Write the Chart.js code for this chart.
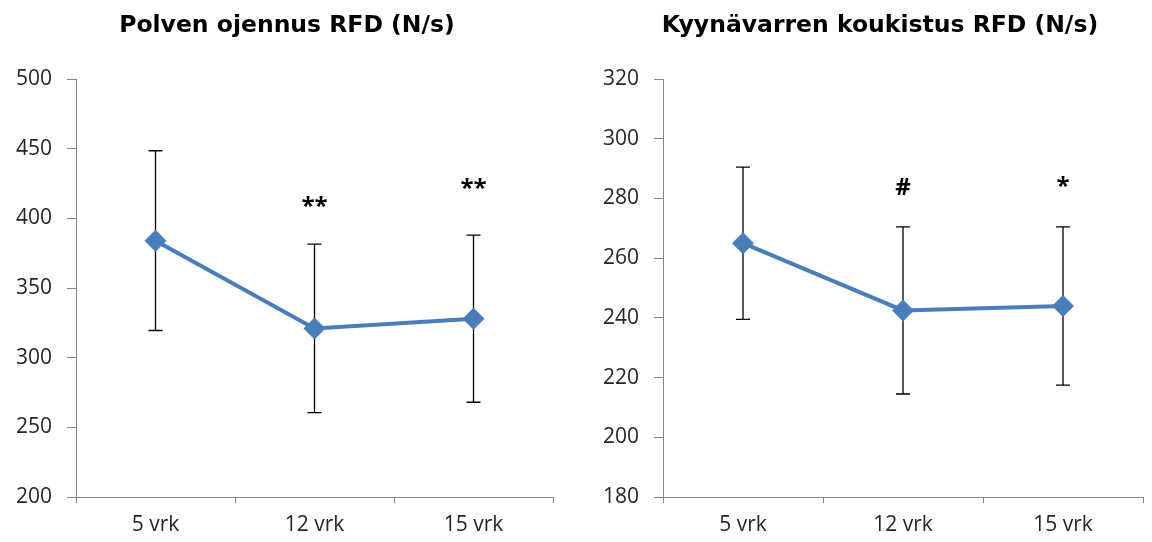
<!DOCTYPE html>
<html><head><meta charset="utf-8">
<script src="https://cdn.jsdelivr.net/npm/chart.js@4/dist/chart.umd.min.js"></script>
<style>
html,body{margin:0;padding:0;background:#fff;overflow:hidden;width:1152px;height:542px;}
.box{position:absolute;top:0;height:542px;}
</style></head><body>
<div class="box" style="left:0;width:574px"><canvas id="c1" width="574" height="542"></canvas></div>
<div class="box" style="left:600px;width:560px"><canvas id="c2" width="560" height="542"></canvas></div>
<script>
const categories = ['5 vrk', '12 vrk', '15 vrk'];

const kneeTitle = 'Polven ojennus RFD (N/s)';
const kneeMean = [384, 321, 328];
const kneeSD = [64.5, 60.5, 60];
const kneeTicks = {min: 200, max: 500, step: 50};
const kneeMarks = ['', '**', '**'];
const kneeMarkLevel = [null, 403, 416];

const elbowTitle = 'Kyynävarren koukistus RFD (N/s)';
const elbowMean = [265, 242.5, 244];
const elbowSD = [25.5, 28, 26.5];
const elbowTicks = {min: 180, max: 320, step: 20};
const elbowMarks = ['', '#', '*'];
const elbowMarkLevel = [null, 281, 281.5];

const FONT = "'Open Sans', 'Liberation Sans', sans-serif";
const TITLE_FONT = "'DejaVu Sans', 'Open Sans', sans-serif";
const AXIS = '#868686';
const BLUE = '#4A7EBB';

// Centered title over the whole chart box (canvas), like the original
const centeredTitle = {
  id: 'centeredTitle',
  afterDraw(chart, args, opts) {
    const ctx = chart.ctx;
    ctx.save();
    ctx.fillStyle = '#000';
    ctx.font = "bold 23.5px " + TITLE_FONT;
    ctx.textAlign = 'center';
    ctx.textBaseline = 'alphabetic';
    ctx.fillText(opts.text, chart.width / 2, 32);
    ctx.restore();
  }
};

const errorBars = {
  id: 'errorBars',
  beforeDatasetsDraw(chart, args, opts) {
    const {ctx, scales: {x, y}} = chart;
    ctx.save();
    ctx.strokeStyle = '#000';
    ctx.lineWidth = 1.3;
    opts.mean.forEach((m, i) => {
      const px = x.getPixelForValue(i);
      const yt = y.getPixelForValue(m + opts.sd[i]);
      const yb = y.getPixelForValue(m - opts.sd[i]);
      ctx.beginPath();
      ctx.moveTo(px, yt); ctx.lineTo(px, yb);
      ctx.moveTo(px - 7, yt); ctx.lineTo(px + 7, yt);
      ctx.moveTo(px - 7, yb); ctx.lineTo(px + 7, yb);
      ctx.stroke();
    });
    ctx.restore();
  },
  afterDatasetsDraw(chart, args, opts) {
    const {ctx, scales: {x, y}} = chart;
    ctx.save();
    ctx.fillStyle = '#000';
    ctx.font = "bold 24px " + FONT;
    ctx.textAlign = 'center';
    ctx.textBaseline = 'alphabetic';
    opts.marks.forEach((t, i) => {
      if (!t || opts.levels[i] == null) return;
      ctx.fillText(t, x.getPixelForValue(i), y.getPixelForValue(opts.levels[i]));
    });
    ctx.restore();
  }
};

function makeChart(id, title, mean, sd, ticks, marks, levels, yWidth, padRight) {
  return new Chart(document.getElementById(id), {
    type: 'line',
    data: {
      labels: categories,
      datasets: [{
        data: mean,
        borderColor: BLUE,
        backgroundColor: BLUE,
        borderWidth: 4,
        pointStyle: 'rectRot',
        pointRadius: 11,
        pointHoverRadius: 11,
        pointBorderWidth: 0,
        tension: 0
      }]
    },
    options: {
      responsive: false,
      animation: false,
      layout: {padding: {left: 0, right: padRight, top: 79, bottom: 0}},
      plugins: {
        legend: {display: false},
        tooltip: {enabled: false},
        title: {display: false},
        centeredTitle: {text: title},
        errorBars: {mean: mean, sd: sd, marks: marks, levels: levels}
      },
      scales: {
        x: {
          offset: true,
          grid: {display: true, drawOnChartArea: false, offset: true, tickLength: 6, color: AXIS},
          border: {display: true, color: AXIS, width: 1},
          ticks: {color: '#262626', font: {family: FONT, size: 21}, padding: 9, maxRotation: 0},
          afterFit(s) { s.height = 45; }
        },
        y: {
          min: ticks.min, max: ticks.max,
          grid: {display: true, drawOnChartArea: false, tickLength: 9, color: AXIS},
          border: {display: true, color: AXIS, width: 1},
          ticks: {stepSize: ticks.step, color: '#262626', font: {family: FONT, size: 21}, padding: 15},
          afterFit(s) { s.width = yWidth; }
        }
      }
    },
    plugins: [errorBars, centeredTitle]
  });
}

makeChart('c1', kneeTitle, kneeMean, kneeSD, kneeTicks, kneeMarks, kneeMarkLevel, 76, 21);
makeChart('c2', elbowTitle, elbowMean, elbowSD, elbowTicks, elbowMarks, elbowMarkLevel, 63, 17);
</script>
</body></html>
